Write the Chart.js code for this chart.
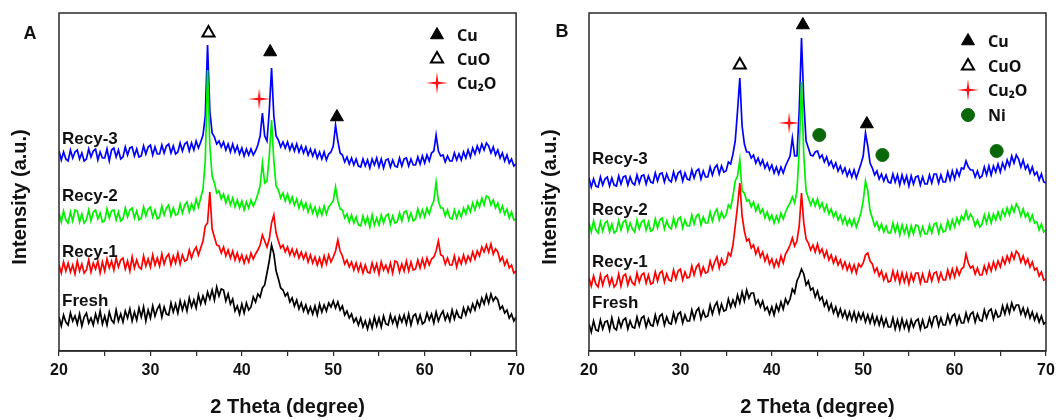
<!DOCTYPE html>
<html>
<head>
<meta charset="utf-8">
<script src="https://cdn.jsdelivr.net/npm/chart.js@4.4.0/dist/chart.umd.min.js"></script>
<style>
  body { margin: 0; background: #fff; }
  canvas { position: absolute; top: 0; }
</style>
</head>
<body>
<canvas id="graficoA" width="530" height="420" style="left:0"></canvas>
<canvas id="graficoB" width="532" height="420" style="left:530px"></canvas>
<script>
// eixo 2 theta: uma leitura a cada 0,25 grau, de 20 a 70
const twoTheta = Array.from({ length: 201 }, (_, i) => 20 + i * 0.25);
const xTicks = [20, 30, 40, 50, 60, 70];
const nomesSeries = ['Fresh', 'Recy-1', 'Recy-2', 'Recy-3'];

// ---- painel A (intensidade, a.u.) ----
const freshA = [
  34,25,36,29, 26,38,30,35, 27,37,25,34, 38,28,33,26, 37,29,40,27,
  35,26,39,31, 28,41,30,37, 29,40,33,42, 30,39,31,43, 34,44,30,41,
  33,45,35,42, 46,34,44,37, 36,48,39,47, 38,50,41,49, 40,53,44,51,
  43,56,47,55, 48,59,52,61, 51,64,55,62, 61,50,57,47, 52,40,45,37,
  47,38,48,41, 44,54,49,57, 54,63,66,78, 90,106,97,80, 72,63,61,55,
  58,49,53,45, 51,42,48,40, 46,38,44,37, 45,36,47,39, 46,40,48,44,
  50,43,49,41, 45,36,40,33, 37,29,33,26, 33,24,30,22, 31,23,34,25,
  33,24,35,27, 26,36,28,34, 25,35,29,36, 27,37,26,35, 37,28,36,27,
  29,38,31,37, 28,39,30,36, 40,31,37,30, 41,32,40,34, 33,43,36,44,
  39,47,41,50, 44,53,47,56, 48,57,50,54, 51,42,45,38, 41,33,37,30,
  34
];
const recy1A = [
  86,78,89,80, 88,79,86,77, 90,80,87,78, 81,91,79,88, 82,90,78,89,
  80,92,83,90, 81,93,84,91, 93,82,90,80, 94,83,91,84, 82,95,85,92,
  84,96,86,93, 85,97,87,94, 97,86,95,88, 98,87,96,90, 91,101,93,100,
  104,96,103,110, 125,128,159,122, 114,106,105,98, 104,95,101,93, 100,91,98,90,
  96,88,95,89, 98,92,97,101, 106,116,110,104, 112,128,136,118, 110,103,106,99,
  104,96,102,95, 101,93,99,92, 98,89,96,88, 94,86,93,85, 95,87,96,89,
  94,100,111,100, 95,87,91,84, 89,81,88,80, 87,78,86,79, 78,88,80,87,
  77,89,81,86, 79,88,78,90, 89,79,87,80, 90,80,89,81, 82,91,83,92,
  84,93,86,92, 94,100,110,96, 95,87,93,86, 86,95,84,93, 87,96,88,95,
  90,99,92,100, 95,104,99,106, 99,107,97,102, 99,90,94,86, 91,83,86,78,
  80
];
const recy2A = [
  138,129,140,131, 128,139,130,141, 140,129,137,128, 131,141,130,139, 141,132,138,129,
  130,142,133,140, 141,131,139,130, 132,143,134,141, 143,133,140,131, 133,144,135,142,
  144,134,141,132, 134,145,136,143, 146,135,143,136, 137,147,138,146, 149,139,147,141,
  152,144,153,162, 190,281,205,175, 168,158,160,152, 157,148,155,146, 153,144,151,143,
  150,141,149,143, 151,145,150,157, 165,188,168,170, 195,231,190,165, 161,153,158,150,
  157,148,154,146, 152,143,150,142, 148,139,146,138, 144,135,143,136, 145,137,144,147,
  150,164,150,142, 141,133,137,129, 136,128,134,126, 125,135,127,134, 124,136,126,133,
  126,136,128,135, 137,127,135,128, 129,138,130,139, 140,131,138,130, 132,142,134,141,
  134,143,137,145, 150,169,150,143, 143,135,141,133, 132,141,133,140, 134,143,137,145,
  139,148,141,150, 144,153,146,155, 154,146,151,143, 148,139,145,137, 142,133,139,131,
  132
];
const recy3A = [
  200,191,199,192, 190,201,193,199, 201,192,198,190, 192,202,194,200, 202,191,199,193,
  193,202,190,201, 203,194,201,192, 194,204,196,203, 204,195,202,194, 195,205,197,204,
  206,196,204,197, 197,206,198,205, 207,198,205,197, 199,208,200,207, 209,200,208,201,
  210,203,209,216, 235,306,240,218, 214,207,210,204, 209,201,207,199, 207,199,205,197,
  203,195,202,196, 202,196,200,206, 215,238,215,210, 240,283,235,215, 211,204,209,203,
  209,201,207,200, 207,199,205,198, 204,196,202,195, 201,193,199,192, 199,191,197,199,
  205,226,210,198, 196,189,194,187, 193,186,192,185, 184,192,185,191, 183,192,186,193,
  184,192,183,191, 192,184,191,185, 184,193,185,192, 193,185,192,186, 186,194,187,195,
  188,196,190,198, 200,216,200,195, 196,189,195,190, 190,198,191,197, 191,199,193,201,
  194,203,197,205, 199,207,201,208, 205,198,204,196, 201,193,198,190, 196,188,192,185,
  187
];

// ---- painel B ----
const freshB = [
  27,19,30,21, 20,31,22,29, 30,21,33,23, 21,32,24,31, 33,22,30,24,
  23,34,25,33, 35,24,32,26, 25,36,27,35, 37,26,34,28, 27,38,29,37,
  39,28,36,30, 30,41,32,40, 43,32,40,34, 35,46,37,45, 49,38,47,40,
  41,52,44,51, 45,56,48,59, 50,61,53,58, 58,47,51,44, 50,41,44,37,
  44,36,46,40, 49,42,52,47, 52,62,58,70, 75,82,77,66, 70,61,63,54,
  60,51,54,45, 50,41,47,38, 44,35,42,34, 40,32,39,31, 39,30,38,32,
  38,29,36,28, 36,27,34,26, 34,25,32,24, 24,33,22,31, 22,32,23,30,
  21,31,24,30, 32,22,31,23, 24,33,25,34, 35,25,33,26, 26,36,28,35,
  37,27,35,28, 28,38,30,37, 39,29,37,31, 30,41,33,40, 42,32,40,34,
  35,45,37,46, 38,48,41,46, 46,37,43,35, 42,33,39,31, 37,29,35,27,
  29
];
const recy1B = [
  73,65,75,67, 64,76,66,74, 76,66,73,64, 67,77,65,75, 77,66,74,68,
  66,78,69,76, 78,68,76,67, 68,79,70,78, 80,69,77,71, 70,81,72,80,
  82,71,79,73, 74,85,76,84, 87,76,84,78, 79,90,82,89, 94,83,92,86,
  88,98,95,106, 125,145,168,135, 120,110,112,103, 106,97,103,94, 99,90,96,87,
  92,84,91,85, 95,88,97,101, 106,113,105,110, 125,158,128,112, 108,101,106,99,
  107,98,102,94, 100,91,96,88, 94,86,91,83, 89,81,87,79, 86,78,87,84,
  88,96,98,90, 87,79,83,75, 80,71,77,69, 70,80,71,79, 68,78,69,77,
  67,77,70,78, 78,68,77,69, 69,79,70,78, 79,70,78,71, 71,81,73,82,
  74,83,76,82, 84,97,88,83, 85,77,83,76, 76,85,78,87, 80,89,82,90,
  84,93,87,95, 89,98,92,100, 97,89,95,87, 92,84,89,81, 83,75,79,71,
  72
];
const recy2B = [
  128,119,130,121, 118,129,120,128, 130,119,127,118, 120,130,121,129, 131,120,128,122,
  119,131,122,129, 131,121,129,120, 121,132,123,131, 133,122,130,124, 122,133,124,132,
  134,123,131,125, 125,136,127,135, 137,126,134,128, 128,139,130,138, 142,131,139,133,
  136,146,143,155, 170,175,191,160, 158,150,151,144, 149,140,146,138, 142,133,139,131,
  136,128,135,129, 138,132,139,144, 148,154,148,160, 200,269,195,160, 153,146,152,145,
  152,143,148,140, 146,137,142,134, 139,131,136,128, 134,126,132,125, 132,124,131,138,
  150,170,160,140, 133,125,129,121, 127,119,125,118, 118,128,119,127, 116,126,118,125,
  115,125,117,126, 125,116,124,117, 117,126,118,127, 128,118,126,119, 120,130,122,131,
  124,133,127,135, 131,140,132,137, 133,125,131,124, 127,136,128,137, 128,137,131,139,
  132,141,135,143, 136,145,139,147, 143,135,142,134, 138,130,136,128, 129,121,127,119,
  121
];
const recy3B = [
  173,164,172,165, 164,174,166,172, 174,165,173,166, 165,175,167,174, 175,166,174,168,
  166,176,168,175, 176,167,175,169, 168,178,170,177, 178,169,177,171, 169,179,171,178,
  180,170,178,172, 171,181,173,180, 182,172,180,174, 174,184,176,183, 186,177,185,179,
  180,189,187,197, 210,240,273,225, 207,199,199,193, 196,188,193,186, 191,183,188,181,
  186,178,184,177, 184,178,185,190, 195,213,195,195, 240,313,250,210, 203,196,195,199,
  200,193,196,189, 194,186,190,183, 188,180,185,178, 183,175,181,174, 181,173,180,187,
  195,218,205,188, 183,176,180,172, 177,170,176,169, 168,177,169,176, 166,176,168,175,
  165,175,167,174, 175,166,174,167, 167,176,168,177, 177,168,176,169, 169,179,171,180,
  172,181,175,183, 182,190,184,181, 181,174,180,173, 175,184,176,185, 176,185,179,187,
  179,188,182,191, 185,195,188,196, 192,184,191,182, 186,178,184,176, 179,171,177,169,
  168
];

// marcadores de pico (posicao 2theta, altura)
const cuA = [{ x: 43.1, y: 299 }, { x: 50.4, y: 234 }];
const cuoA = [{ x: 36.35, y: 318 }];
const cu2oA = [{ x: 41.9, y: 252 }];
const cuB = [{ x: 43.4, y: 326 }, { x: 50.4, y: 227 }];
const cuoB = [{ x: 36.5, y: 286 }];
const cu2oB = [{ x: 41.9, y: 228 }];
const niB = [{ x: 45.2, y: 216 }, { x: 52.1, y: 196 }, { x: 64.6, y: 200 }];

// altura dos nomes das curvas (Fresh, Recy-1, Recy-2, Recy-3)
const niveisA = [50, 99, 155, 212];
const niveisB = [48, 89, 141, 192];

const legendaA = ['Cu', 'CuO', 'Cu\u2082O'];
const legendaB = ['Cu', 'CuO', 'Cu\u2082O', 'Ni'];

const coresSeries = ['#000000', '#ff0000', '#00f000', '#0000ff'];
const fonteArial = '"Liberation Sans", Arial, sans-serif';

function estrela(tam, cor) {
    const c = document.createElement('canvas');
    c.width = tam; c.height = tam;
    const g = c.getContext('2d');
    const m = tam / 2, ri = tam * 0.08;
    g.fillStyle = cor;
    g.beginPath();
    for (let k = 0; k < 8; k++) {
        const ang = k * Math.PI / 4 - Math.PI / 2;
        const r = k % 2 === 0 ? m : ri;
        g.lineTo(m + r * Math.cos(ang), m + r * Math.sin(ang));
    }
    g.closePath();
    g.fill();
    return c;
}
const imgEstrela = estrela(22, '#ff1010');

const simbolos = {
    'Cu': { pointStyle: 'triangle', radius: 7.5, fill: '#000', stroke: '#000', bw: 1 },
    'CuO': { pointStyle: 'triangle', radius: 7, fill: '#fff', stroke: '#000', bw: 2 },
    'Cu\u2082O': { pointStyle: imgEstrela, radius: 11, fill: '#f00', stroke: '#f00', bw: 0 },
    'Ni': { pointStyle: 'circle', radius: 6.5, fill: '#0a670a', stroke: '#0a670a', bw: 1 }
};

function pontos(vals) {
    return vals.map((v, i) => ({ x: twoTheta[i], y: v }));
}

function marcador(nome, dados) {
    const s = simbolos[nome];
    return {
        label: nome, data: dados, showLine: false,
        pointStyle: s.pointStyle, pointRadius: s.radius,
        pointBackgroundColor: s.fill, pointBorderColor: s.stroke, pointBorderWidth: s.bw
    };
}

const decoracao = {
    id: 'decoracao',
    afterDraw(chart, args, o) {
        const ctx = chart.ctx, a = chart.chartArea, y = chart.scales.y;
        ctx.save();
        ctx.strokeStyle = '#2a2a2a';
        ctx.lineWidth = 1.5;
        ctx.strokeRect(a.left, a.top, a.right - a.left, a.bottom - a.top);

        ctx.fillStyle = '#111';
        ctx.textAlign = 'center';
        ctx.textBaseline = 'middle';
        ctx.font = 'bold 18px ' + fonteArial;
        ctx.fillText(o.letra, o.letraX, o.letraY);

        ctx.save();
        ctx.translate(20, 197);
        ctx.rotate(-Math.PI / 2);
        ctx.font = 'bold 20px ' + fonteArial;
        ctx.fillText('Intensity (a.u.)', 0, 0);
        ctx.restore();

        ctx.textAlign = 'left';
        ctx.font = 'bold 17px ' + fonteArial;
        nomesSeries.forEach((n, i) => ctx.fillText(n, a.left + 3, y.getPixelForValue(o.niveis[i])));

        ctx.font = 'bold 16px "Noto Sans", sans-serif';
        o.legenda.forEach((n, i) => {
            const s = simbolos[n];
            ctx.fillStyle = s.fill;
            ctx.strokeStyle = s.stroke;
            ctx.lineWidth = s.bw;
            Chart.helpers.drawPoint(ctx, { pointStyle: s.pointStyle, radius: s.radius, rotation: 0, borderWidth: s.bw }, o.legX, o.legY[i]);
            ctx.fillStyle = '#111';
            ctx.fillText(n, o.legX + 20, o.legY[i] + 1);
        });
        ctx.restore();
    }
};

function criarGrafico(id, series, marcadores, padDir, deco) {
    const ctx = document.getElementById(id).getContext('2d');
    const linhas = series.map((vals, i) => ({
        label: nomesSeries[i], data: pontos(vals),
        borderColor: coresSeries[i], borderWidth: 1.7, pointRadius: 0, tension: 0
    }));
    return new Chart(ctx, {
        type: 'line',
        data: { datasets: marcadores.concat(linhas) },
        options: {
            responsive: false,
            animation: false,
            events: [],
            layout: { padding: { left: 59, right: padDir, top: 13, bottom: 0 } },
            plugins: { legend: { display: false }, tooltip: { enabled: false }, decoracao: deco },
            scales: {
                x: {
                    type: 'linear', min: xTicks[0], max: xTicks[xTicks.length - 1],
                    ticks: {
                        stepSize: 5, autoSkip: false, maxRotation: 0, padding: 5, color: '#111',
                        font: { family: fonteArial, size: 16, weight: 'bold' },
                        callback: v => xTicks.includes(v) ? v : ''
                    },
                    grid: { drawOnChartArea: false, tickLength: 5, color: '#2a2a2a', lineWidth: 1.2 },
                    border: { display: true, color: '#2a2a2a', width: 1.5 },
                    title: {
                        display: true, text: '2 Theta (degree)', color: '#111',
                        font: { family: fonteArial, size: 20, weight: 'bold' },
                        padding: { top: 0, bottom: 1 }
                    },
                    afterFit: s => { s.height = 69; }
                },
                y: { display: false, min: 0, max: 338 }
            }
        },
        plugins: [decoracao]
    });
}

criarGrafico('graficoA', [freshA, recy1A, recy2A, recy3A],
    [marcador('Cu', cuA), marcador('CuO', cuoA), marcador('Cu\u2082O', cu2oA)], 12,
    { letra: 'A', letraX: 30, letraY: 34, niveis: niveisA, legenda: legendaA, legX: 437, legY: [35, 59, 83] });

criarGrafico('graficoB', [freshB, recy1B, recy2B, recy3B],
    [marcador('Cu', cuB), marcador('CuO', cuoB), marcador('Cu\u2082O', cu2oB), marcador('Ni', niB)], 16,
    { letra: 'B', letraX: 32, letraY: 32, niveis: niveisB, legenda: legendaB, legX: 438, legY: [41, 66, 90, 115] });
</script>
</body>
</html>
